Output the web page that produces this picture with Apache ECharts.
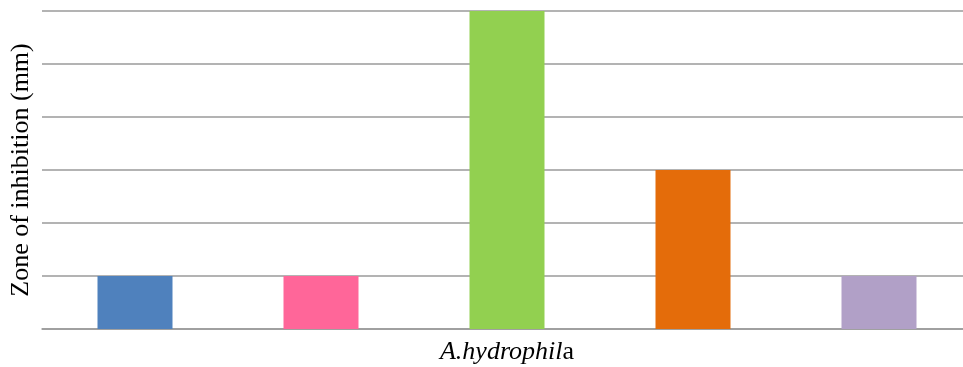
<!DOCTYPE html>
<html>
<head>
<meta charset="utf-8">
<script src="https://cdn.jsdelivr.net/npm/echarts@6/dist/echarts.min.js"></script>
<style>
  html, body { margin: 0; padding: 0; background: #fff; overflow: hidden; }
  /* plot area runs slightly past the right edge of the window */
  #chart { width: 972px; height: 367px; }
</style>
</head>
<body>
<div id="chart"></div>
<script>
// Zone of inhibition against A. hydrophila, one bar per treatment
const categories = ['A.hydrophila'];
const seriesValues = [[1], [1], [6], [3], [1]];
const seriesColors = ['#4F81BD', '#FF6699', '#92D050', '#E46C0A', '#B1A0C7'];
const yMin = 0, yMax = 6, yStep = 1;

const chart = echarts.init(document.getElementById('chart'));
chart.setOption({
  animation: false,
  grid: { left: 41, right: 0, top: 11, bottom: 38 },
  xAxis: {
    type: 'category',
    data: categories,
    axisLine: { show: true, lineStyle: { color: '#9a9a9a', width: 1.5 } },
    axisTick: { show: false },
    axisLabel: {
      margin: 10,
      formatter: v => '{i|' + v.slice(0, -1) + '}{n|' + v.slice(-1) + '}',
      rich: {
        i: { fontStyle: 'italic', fontFamily: 'Liberation Serif', fontSize: 26, color: '#000' },
        n: { fontFamily: 'Liberation Serif', fontSize: 26, color: '#000' }
      }
    }
  },
  yAxis: {
    type: 'value',
    min: yMin, max: yMax, interval: yStep,
    name: 'Zone of inhibition (mm)',
    nameLocation: 'middle',
    nameGap: 8,
    nameTextStyle: { fontFamily: 'Liberation Serif', fontSize: 26, color: '#000' },
    axisLabel: { show: false },
    axisLine: { show: false },
    axisTick: { show: false },
    splitLine: { lineStyle: { color: '#9a9a9a', width: 1.5 } }
  },
  series: seriesValues.map((vals, i) => ({
    type: 'bar',
    data: vals,
    barWidth: 75,
    barGap: '148%',
    itemStyle: { color: seriesColors[i] }
  }))
});
</script>
</body>
</html>
